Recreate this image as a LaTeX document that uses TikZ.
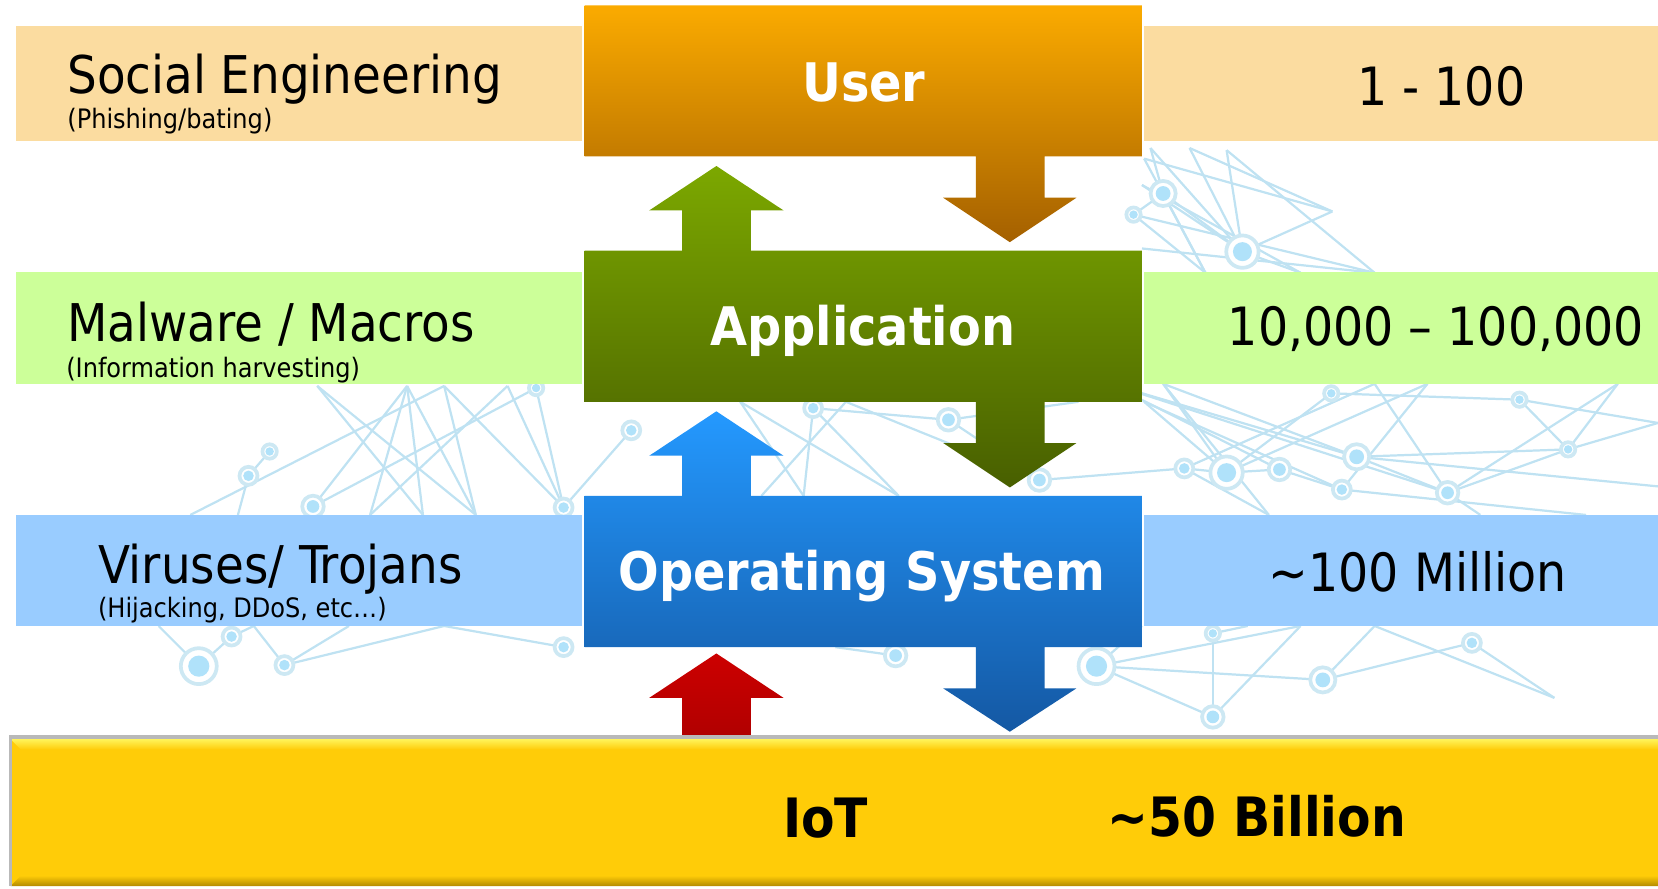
\documentclass[tikz,border=0pt]{standalone}
\usepackage{fontspec}
\setmainfont{DejaVu Sans Condensed}

\definecolor{seband}{HTML}{FBDCA0}
\definecolor{mwband}{HTML}{CCFF99}
\definecolor{vtband}{HTML}{99CCFF}
\definecolor{usertop}{HTML}{FBAB00}
\definecolor{usermid}{HTML}{DC8D00}
\definecolor{userbot}{HTML}{A46000}
\definecolor{apptop}{HTML}{7CA800}
\definecolor{appmid}{HTML}{638A00}
\definecolor{appbot}{HTML}{485F00}
\definecolor{ostop}{HTML}{2499FF}
\definecolor{osmid}{HTML}{1F80E0}
\definecolor{osbot}{HTML}{1458A3}
\definecolor{iotred}{HTML}{CC0000}
\definecolor{iotredd}{HTML}{B00000}
\definecolor{iotgold}{HTML}{FFCC08}
\definecolor{iotlight}{HTML}{FFF45A}
\definecolor{iotdark}{HTML}{B38A00}
\definecolor{netline}{HTML}{BFE2F2}
\definecolor{netring}{HTML}{CDE8F3}
\definecolor{netdot}{HTML}{B0E2FA}

\begin{document}
\begin{tikzpicture}[x=0.1mm, y=-0.1mm,
  lbl/.style={anchor=base west, inner sep=0, font=\fontsize{14}{16}\selectfont},
  sublbl/.style={anchor=base west, inner sep=0, font=\fontsize{7.2}{9}\selectfont},
  num/.style={anchor=base, inner sep=0, font=\fontsize{14.2}{17}\selectfont},
  layer/.style={anchor=base, inner sep=0, text=white, font=\bfseries\fontsize{14.3}{17}\selectfont},
  iot/.style={anchor=base west, inner sep=0, font=\bfseries\fontsize{14.6}{17}\selectfont},
  net/.style={netline, line width=0.6pt}]
\useasboundingbox (0,0) rectangle (1568,840);

% background network
\foreach \p/\x/\y in {t1/1100/183, t2/1175/238, t3/1072/203, t4/1088/140, t5/1125/140,
    t6/1160/142, t7/1080/175, t8/1080/235, t9/1300/258, t10/1230/258, t11/1140/258,
    t12/1260/200, t13/1082/150,
    l1/235/450, l2/255/427, l3/385/365, l4/507/367, l5/296/479, l6/533/480, l7/597/407,
    l8/225/487, l9/350/487, l10/450/487, l11/420/365, l12/180/487, l13/300/365,
    l14/480/365, l15/400/487,
    c1/769/386, c2/897/397, c3/983/454, c4/700/380, c5/850/469, c6/760/469, c7/1020/380,
    c8/800/380, c9/720/469,
    r1/1160/447, r2/1210/444, r3/1120/443, r4/1283/432, r5/1369/466, r6/1483/425,
    r7/1269/463, r8/1437/378, r9/1259/372, r10/1082/380, r11/1100/363, r12/1050/363,
    r13/1568/400, r14/1400/487, r15/1500/487, r16/1300/363, r17/1530/363, r18/1350/363,
    r19/1200/487, r20/1568/460,
    b1/188/630, b2/219/602, b3/269/629, b4/533/612, b5/240/592, b6/150/592, b7/420/592,
    b8/330/592,
    m1/847/620, m2/790/612,
    d1/1037/630, d2/1251/643, d3/1147/678, d4/1392/608, d5/1147/599, d6/1080/592,
    d7/1180/592, d8/1300/592, d9/1470/660, d10/1230/592}
  \coordinate (\p) at (\x,\y);
\foreach \a/\b in {t4/t2, t5/t2, t6/t2, t7/t2, t1/t2, t3/t1, t7/t10, t4/t1, t1/t11,
    t8/t9, t6/t9, t2/t10, t3/t11, t13/t12, t5/t12, t2/t12, t13/t11, t3/t9,
    l1/l2, l1/l8, l3/l5, l3/l9, l3/l10, l11/l10, l11/l6, l4/l6, l4/l5, l7/l6, l11/l12,
    l13/l15, l14/l9, l14/l6, l13/l10, l3/l15,
    c1/c5, c1/c6, c4/c6, c2/c3, c2/c7, c1/c2, c4/c5, c8/c9, c8/c3,
    r10/r1, r11/r1, r12/r2, r11/r4, r3/r1, r1/r2, r2/r7, r4/r6, r5/r6, r4/r5, r9/r8,
    r8/r6, r16/r5, r9/r1, r12/r5, r6/r13, r5/r14, r7/r15, c3/r3, r8/r13, r10/r7, r16/r3,
    r17/r6, r18/r7, r18/r1, r12/r4, r3/r19, r4/r20, r17/r5, r11/r19,
    b1/b2, b2/b5, b3/b5, b1/b6, b4/b7, b3/b7, b3/b8,
    m1/m2, d1/d2, d1/d3, d3/d5, d5/d7, d2/d8, d1/d6, d2/d4, d4/d9, d8/d9, d3/d10, d1/d10}
  \draw[net] (\a) -- (\b);
\foreach \p/\r in {t1/7, t2/9, t3/4, l1/5, l2/4, l4/4, l5/6, l6/5, l7/5, c1/5, c2/6,
    c3/6, r1/9, r2/6, r3/5, r4/7, r5/6, r6/4, r7/5, r8/4, r9/4, b1/10, b2/5, b3/5,
    b4/5, m1/6, d1/10, d2/7, d3/6, d4/5, d5/4}
  {\draw[netring, line width=1pt, fill=white] (\p) circle (1.7*\r);
   \fill[netdot] (\p) circle (\r);}

% side bands
\fill[seband] (15,25) rectangle (550,133);
\fill[seband] (1082,25) rectangle (1568,133);
\fill[mwband] (15,257) rectangle (550,363);
\fill[mwband] (1082,257) rectangle (1568,363);
\fill[vtband] (15,487) rectangle (550,592);
\fill[vtband] (1082,487) rectangle (1568,592);

% layers with their arrows
\shade[top color=usertop, middle color=usermid, bottom color=userbot]
  (553,5) -- (1080,5) -- (1080,148) -- (988,148) -- (988,187) -- (1018,187)
  -- (955,229) -- (892,187) -- (923,187) -- (923,148) -- (553,148) -- cycle;
\shade[top color=apptop, middle color=appmid, bottom color=appbot]
  (553,237) -- (645,237) -- (645,199) -- (614,199) -- (677.5,157) -- (741,199)
  -- (710,199) -- (710,237) -- (1080,237) -- (1080,380) -- (988,380) -- (988,419)
  -- (1018,419) -- (955,461) -- (892,419) -- (923,419) -- (923,380) -- (553,380) -- cycle;
\shade[top color=ostop, middle color=osmid, bottom color=osbot]
  (553,469) -- (645,469) -- (645,431) -- (614,431) -- (677.5,389) -- (741,431)
  -- (710,431) -- (710,469) -- (1080,469) -- (1080,612) -- (988,612) -- (988,651)
  -- (1018,651) -- (955,692) -- (892,651) -- (923,651) -- (923,612) -- (553,612) -- cycle;
\shade[top color=iotred, bottom color=iotredd]
  (645,698) -- (645,660) -- (614,660) -- (677.5,618) -- (741,660) -- (710,660)
  -- (710,698) -- cycle;

% IoT bar
\fill[iotgold] (10,697) rectangle (1570,838);
\shade[top color=iotlight, bottom color=iotgold]
  (10,699) -- (1570,699) -- (1570,709) -- (20,709) -- cycle;
\shade[top color=iotgold, bottom color=iotdark]
  (20,828) -- (1570,828) -- (1570,838) -- (10,838) -- cycle;
\draw[gray!55, line width=1pt] (10,838) -- (10,697) -- (1570,697);

% texts
\node[lbl] (social) at (63,88) {Social Engineering};
\node[sublbl] (phish) at (63,122) {(Phishing/bating)};
\node[lbl] (malware) at (63,323) {Malware / Macros};
\node[sublbl] (harvest) at (62,357) {(Information harvesting)};
\node[lbl] (virus) at (92,552) {Viruses/ Trojans};
\node[sublbl] (hijack) at (92,584) {(Hijacking, DDoS, etc…)};

\node[layer] (user) at (817,96) {User};
\node[layer] (app) at (816,327) {Application};
\node[layer] (os) at (815,558) {Operating System};

\node[num] (usernum) at (1363,100) {1 - 100};
\node[num] (appnum) at (1358,327) {10,000 – 100,000};
\node[num] (osnum) at (1341,559) {\textasciitilde100 Million};

\node[iot] (iot) at (740,792) {IoT};
\node[iot] (iotnum) at (1047,791) {\textasciitilde50 Billion};
\end{tikzpicture}
\end{document}
